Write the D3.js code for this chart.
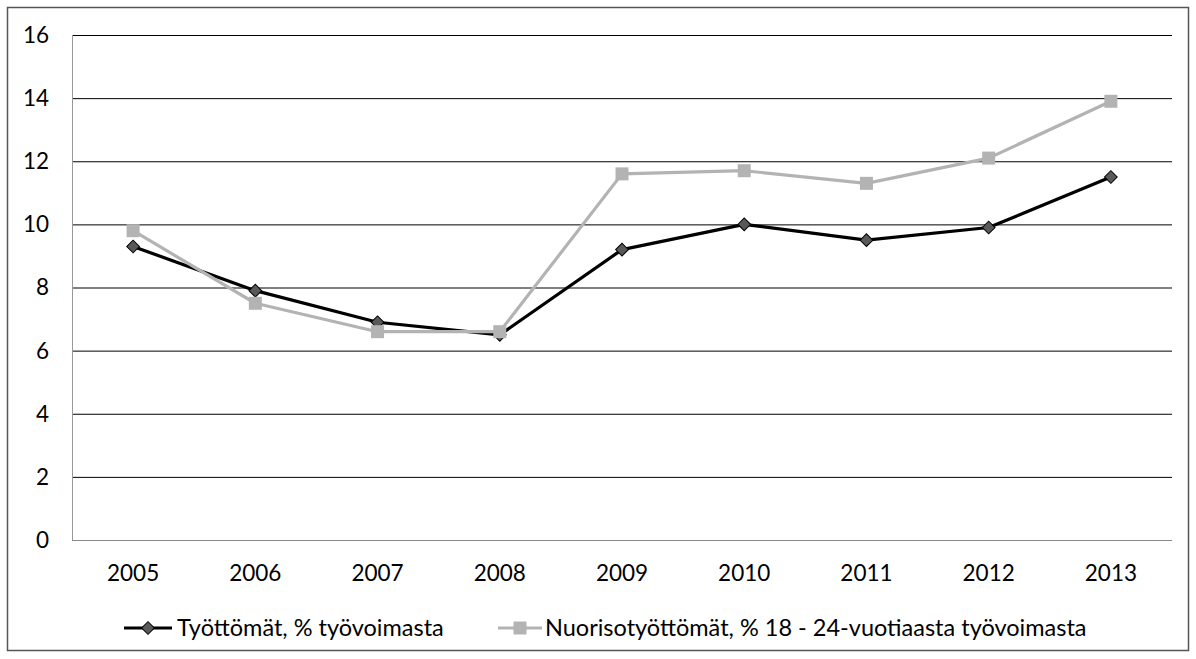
<!DOCTYPE html>
<html><head><meta charset="utf-8">
<script src="https://cdn.jsdelivr.net/npm/d3@7"></script>
<style>body{margin:0;background:#fff}svg{display:block}text{font-family:Lato,"Open Sans",sans-serif;fill:#000}</style>
</head><body><svg id="c" width="1196" height="659"></svg>
<script>
const years = ["2005","2006","2007","2008","2009","2010","2011","2012","2013"];
const tyottomat = [9.3,7.9,6.9,6.5,9.2,10.0,9.5,9.9,11.5];
const nuoriso = [9.8,7.5,6.6,6.6,11.6,11.7,11.3,12.1,13.9];
const yTicks = [0,2,4,6,8,10,12,14,16];
const seriesNames = ["Työttömät, % työvoimasta","Nuorisotyöttömät, % 18 - 24-vuotiaasta työvoimasta"];

const FS = 22.5, LFS = 23.5;
const svg = d3.select("#c");
svg.append("rect").attr("x",7.5).attr("y",7.5).attr("width",1181).attr("height",643).attr("fill","#fff").attr("stroke","#555").attr("stroke-width",1.5);
const L=72,R=1172,T=35,B=540;
const x = d3.scaleBand().domain(years).range([L,R]);
const y = d3.scaleLinear().domain([0,16]).range([B,T]);
svg.append("g").selectAll("line").data(yTicks.filter(d=>d>0)).join("line")
 .attr("x1",L).attr("x2",R).attr("y1",d=>y(d)+0.5).attr("y2",d=>y(d)+0.5).attr("stroke","#000").attr("stroke-width",1);
svg.append("line").attr("x1",L+0.5).attr("x2",L+0.5).attr("y1",T).attr("y2",B).attr("stroke","#999");
svg.append("line").attr("x1",L).attr("x2",R).attr("y1",B+0.5).attr("y2",B+0.5).attr("stroke","#888");
svg.append("g").selectAll("text").data(yTicks).join("text")
 .attr("x",49).attr("y",d=>y(d)).attr("dy","0.35em").attr("text-anchor","end").attr("font-size",FS).text(d=>d);
svg.append("g").selectAll("text").data(years).join("text")
 .attr("x",d=>x(d)+x.bandwidth()/2).attr("y",573).attr("dy","0.35em").attr("text-anchor","middle").attr("font-size",FS).text(d=>d);
const line = d3.line().x((d,i)=>x(years[i])+x.bandwidth()/2).y(d=>y(d));
function drawDiamond(g,cx,cy){
  g.append("rect").attr("x",cx-4.5).attr("y",cy-4.5).attr("width",9).attr("height",9)
   .attr("transform",`rotate(45 ${cx} ${cy})`).attr("fill","#595959").attr("stroke","#000").attr("stroke-width",1);
}
function drawSquare(g,cx,cy){
  g.append("rect").attr("x",cx-6.5).attr("y",cy-6.5).attr("width",13).attr("height",13).attr("fill","#b3b3b3");
}
const g1 = svg.append("g");
g1.append("path").datum(tyottomat).attr("d",line).attr("fill","none").attr("stroke","#000").attr("stroke-width",3.2).attr("stroke-linejoin","round");
tyottomat.forEach((v,i)=>drawDiamond(g1,x(years[i])+x.bandwidth()/2,y(v)));
const g2 = svg.append("g");
g2.append("path").datum(nuoriso).attr("d",line).attr("fill","none").attr("stroke","#b3b3b3").attr("stroke-width",3.2).attr("stroke-linejoin","round");
nuoriso.forEach((v,i)=>drawSquare(g2,x(years[i])+x.bandwidth()/2,y(v)));
const lg = svg.append("g");
lg.append("line").attr("x1",124).attr("x2",172).attr("y1",628).attr("y2",628).attr("stroke","#000").attr("stroke-width",3.2);
drawDiamond(lg,148,628);
lg.append("text").attr("x",177).attr("y",628).attr("dy","0.35em").attr("font-size",LFS).text(seriesNames[0]);
lg.append("line").attr("x1",498).attr("x2",542).attr("y1",628).attr("y2",628).attr("stroke","#b3b3b3").attr("stroke-width",3.2);
drawSquare(lg,520,628);
lg.append("text").attr("x",545).attr("y",628).attr("dy","0.35em").attr("font-size",LFS).text(seriesNames[1]);
</script></body></html>
